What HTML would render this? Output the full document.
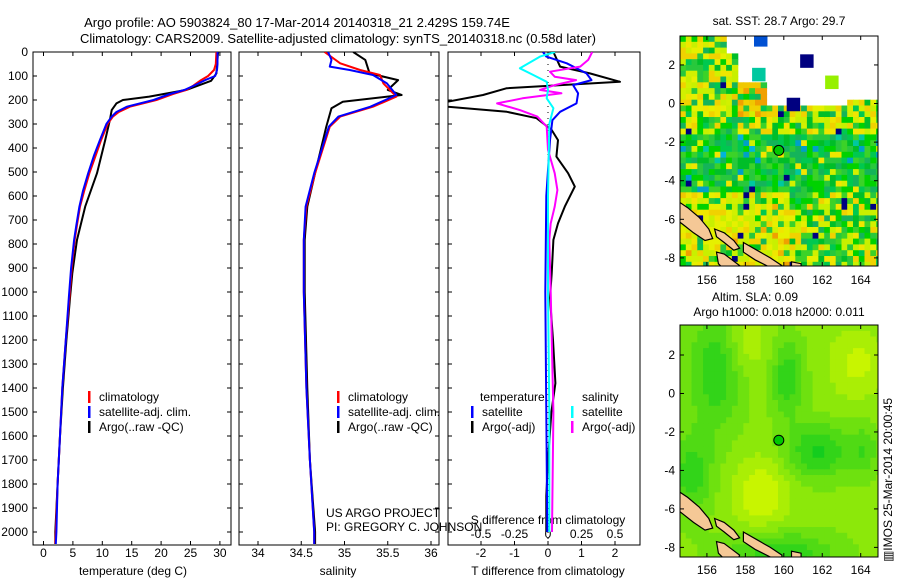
<!DOCTYPE html>
<html><head><meta charset="utf-8"><style>
html,body{margin:0;padding:0;background:#fff;}
svg{display:block;font-family:"Liberation Sans",sans-serif;}
text{fill:#000;}
</style></head><body>
<svg id="fig" width="900" height="580" viewBox="0 0 900 580" xmlns="http://www.w3.org/2000/svg">
<rect width="900" height="580" fill="#fff"/>
<text x="297" y="27" font-size="13" text-anchor="middle">Argo profile: AO 5903824_80 17-Mar-2014 20140318_21 2.429S 159.74E</text>
<text x="338" y="43" font-size="13" text-anchor="middle">Climatology: CARS2009. Satellite-adjusted climatology: synTS_20140318.nc (0.58d later)</text>
<g id="p1"></g>
<g id="p2"></g>
<g id="p3"></g>
<g id="m1"></g>
<g id="m2"></g>
<text x="779" y="25" font-size="12" text-anchor="middle">sat. SST: 28.7 Argo: 29.7</text>
<text x="755" y="301" font-size="12" text-anchor="middle">Altim. SLA: 0.09</text>
<text x="779" y="316" font-size="12" text-anchor="middle">Argo h1000: 0.018 h2000: 0.011</text>
<text transform="translate(892,480) rotate(-90)" font-size="12" text-anchor="middle">▥IMOS 25-Mar-2014 20:00:45</text>
<text x="326" y="517" font-size="12">US ARGO PROJECT</text>
<text x="326" y="531" font-size="12">PI: GREGORY C. JOHNSON</text>
</svg>
<script>
// ---- data ----
const depthTicks = [0,100,200,300,400,500,600,700,800,900,1000,1100,1200,1300,1400,1500,1600,1700,1800,1900,2000];
const tempTicks = [0,5,10,15,20,25,30];
const salTicks = [34,34.5,35,35.5,36];
const dTTicks = [-2,-1,0,1,2];
const dSTicks = [-0.5,-0.25,0,0.25,0.5];
const dSTickLabels = ["-0.5","-0.25","0","0.25","0.5"];

const climTDepth = [0,50,75,100,117,140,158,175,200,228,250,269,300,367,430,505,580,644,720,783,900,1025,1200,1400,1600,1800,2000,2050];
const climT = [29.4,29.3,29.0,28.0,26.8,25.5,24.3,22.0,19.2,14.7,12.8,11.8,10.9,9.8,8.9,7.8,6.9,6.2,5.7,5.3,4.8,4.4,3.8,3.2,2.8,2.4,2.1,2.0];
const satT = [29.6,29.6,29.5,29.2,27.5,25.6,24.0,21.5,18.7,14.2,12.4,11.6,10.7,9.6,8.6,7.6,6.7,6.1,5.6,5.2,4.7,4.3,3.8,3.2,2.8,2.4,2.2,2.1];
const argoTDepth = [0,89,120,158,186,200,214,242,283,367,505,644,783,922,1025,1200,1400,1600,1800,2000,2050];
const argoT = [29.7,29.4,28.5,24.3,18,13.5,12.4,11.6,11.3,10.5,9.1,7.1,5.7,4.9,4.5,3.9,3.3,2.8,2.4,2.0,2.0];

const argoSDepth = [0,33,89,117,158,179,207,234,311,505,644,783,1000,1400,1700,2000,2050];
const argoS = [35.10,35.24,35.29,35.62,35.50,35.66,34.98,34.85,34.79,34.66,34.57,34.54,34.54,34.57,34.60,34.66,34.66];
const climSDepth = [0,47,75,96,131,186,228,269,311,505,644,783,1000,1400,1700,2000,2050];
const climS = [34.77,34.95,35.18,35.41,35.45,35.60,35.33,34.95,34.83,34.66,34.56,34.53,34.53,34.56,34.60,34.65,34.65];
const satSDepth = [0,33,61,75,96,131,179,228,269,311,505,644,783,1000,1400,1700,2000,2050];
const satS = [34.81,34.85,34.83,35.06,35.33,35.49,35.60,35.30,34.93,34.82,34.65,34.55,34.53,34.53,34.56,34.60,34.65,34.65];

const argoDTDepth = [0,61,89,124,151,179,207,228,249,276,325,367,436,505,561,644,714,783,922,1025,1200,1380,1500,1700,1850,2000];
const argoDT = [0.16,0.36,1.25,2.15,-1.23,-1.94,-3.0,-3.0,-1.23,-0.34,0.11,0.3,0.25,0.6,0.8,0.5,0.3,0.16,0.11,0.06,0.15,0.22,0.1,0.0,-0.05,-0.05];
const satDTDepth = [0,19,47,89,117,138,172,214,249,284,367,600,1000,1500,2000];
const satDT = [-0.15,-0.05,0.56,1.15,1.3,0.75,0.9,0.85,0.36,0.13,0.06,-0.05,-0.08,-0.05,-0.02];
const satDSDepth = [0,19,68,96,124,158,193,234,300,600,1000,1500,2000];
const satDS = [0.052,-0.06,-0.21,-0.11,-0.01,0.0,-0.01,0.04,0.01,0.0,0.0,0.01,0.01];
const argoDSDepth = [0,33,61,82,103,117,138,158,172,193,214,242,269,311,408,505,575,644,714,783,1000,1500,2000];
const argoDS = [0.33,0.3,0.24,0.015,0.05,0.21,0.05,-0.06,0.1,-0.19,-0.38,-0.21,-0.08,-0.01,0.0,0.05,0.07,0.05,0.02,0.01,0.02,0.04,0.03];

const lonTicks = [156,158,160,162,164];
const latTicks = [2,0,-2,-4,-6,-8];
const argoLon = 159.74, argoLat = -2.43;

// ---- helpers ----
const NS = "http://www.w3.org/2000/svg";
function mk(tag, parent, attrs){const e=document.createElementNS(NS,tag);for(const k in attrs)e.setAttribute(k,attrs[k]);parent.appendChild(e);return e;}
const Y0 = 52, YB = 545;
const yD = d => Y0 + d*0.24;
const xT = v => 43.5 + v*5.88;
const xS = v => 258 + (v-34)*86.5;
const xDT = v => 548 + v*33.5;
const xDS = v => 548 + v*134;

function panel(g, x0, x1, name){
  const r = mk('rect', g, {x:x0,y:Y0,width:x1-x0,height:YB-Y0,fill:'none',stroke:'#000','stroke-width':1});
   
  depthTicks.forEach(d=>{
    const y=yD(d);
    const t1=mk('line',g,{x1:x0,x2:x0+4,y1:y,y2:y,stroke:'#000'});
     
    const t2=mk('line',g,{x1:x1-4,x2:x1,y1:y,y2:y,stroke:'#000'});
     
  });
}
function xticks(g, ticks, fx, labels, ly){
  ticks.forEach((v,i)=>{
    const x=fx(v);
    const a=mk('line',g,{x1:x,x2:x,y1:Y0,y2:Y0+4,stroke:'#000'});
     
    const b=mk('line',g,{x1:x,x2:x,y1:YB-4,y2:YB,stroke:'#000'});
     
    if(labels){const t=mk('text',g,{x:x,y:ly,'font-size':12,'text-anchor':'middle'});t.textContent=labels[i];
       }
  });
}
function line(g, depths, vals, fx, color, w, name, clip){
  const pts = depths.map((d,i)=>fx(vals[i]).toFixed(1)+','+yD(d).toFixed(1)).join(' ');
  const a={points:pts,fill:'none',stroke:color,'stroke-width':w,'stroke-linejoin':'round'};
  if(clip)a['clip-path']='url(#'+clip+')';
  const p=mk('polyline',g,a);
   
}
function legend(g, x, y, color, label, name){
  const m=mk('rect',g,{x:x,y:y-10,width:2.5,height:12,fill:color});
   
  const t=mk('text',g,{x:x+11,y:y,'font-size':12}); t.textContent=label;
   
}
const svg=document.getElementById('fig');
const defs=mk('defs',svg,{});
[['c1',33,231],['c2',239,439],['c3',448,640]].forEach(([id,a,b])=>{const c=mk('clipPath',defs,{id:id});mk('rect',c,{x:a,y:Y0,width:b-a,height:YB-Y0});});

// panel 1
const p1=document.getElementById('p1');
panel(p1,33,231,'temperature-panel');
depthTicks.forEach(d=>{const t=mk('text',p1,{x:28,y:yD(d)+4,'font-size':12,'text-anchor':'end'});t.textContent=d;
   });
xticks(p1,tempTicks,xT,tempTicks.map(String),557);
const xl1=mk('text',p1,{x:133,y:575,'font-size':12,'text-anchor':'middle'});xl1.textContent='temperature (deg C)';
 
line(p1,argoTDepth,argoT,xT,'#000',2,'argo-temperature-line','c1');
line(p1,climTDepth,climT,xT,'#f00',2,'climatology-temperature-line','c1');
line(p1,climTDepth,satT,xT,'#00f',2,'satellite-temperature-line','c1');
legend(p1,88,401,'#f00','climatology','legend-climatology');
legend(p1,88,416,'#00f','satellite-adj. clim.','legend-satellite');
legend(p1,88,431,'#000','Argo(..raw -QC)','legend-argo');

// panel 2
const p2=document.getElementById('p2');
panel(p2,239,439,'salinity-panel');
xticks(p2,salTicks,xS,salTicks.map(String),557);
const xl2=mk('text',p2,{x:338,y:575,'font-size':12,'text-anchor':'middle'});xl2.textContent='salinity';
 
line(p2,argoSDepth,argoS,xS,'#000',2,'argo-salinity-line','c2');
line(p2,climSDepth,climS,xS,'#f00',2,'climatology-salinity-line','c2');
line(p2,satSDepth,satS,xS,'#00f',2,'satellite-salinity-line','c2');
legend(p2,337,401,'#f00','climatology','legend-climatology');
legend(p2,337,416,'#00f','satellite-adj. clim.','legend-satellite');
legend(p2,337,431,'#000','Argo(..raw -QC)','legend-argo');

// panel 3
const p3=document.getElementById('p3');
mk('rect',p3,{x:448,y:Y0,width:192,height:YB-Y0,fill:'none',stroke:'#000'});
depthTicks.forEach(d=>{const y=yD(d);const t=mk('line',p3,{x1:448,x2:452,y1:y,y2:y,stroke:'#000'});
   });
xticks(p3,dTTicks,xDT,dTTicks.map(String),557);
dSTicks.forEach((v,i)=>{const t=mk('text',p3,{x:xDS(v),y:538,'font-size':12,'text-anchor':'middle'});t.textContent=dSTickLabels[i];
   });
const st=mk('text',p3,{x:548,y:524,'font-size':12,'text-anchor':'middle'});st.textContent='S difference from climatology';
 
const xl3=mk('text',p3,{x:548,y:575,'font-size':12,'text-anchor':'middle'});xl3.textContent='T difference from climatology';
 
const zl=mk('line',p3,{x1:xDT(0),x2:xDT(0),y1:Y0,y2:YB,stroke:'#000','stroke-width':1,'stroke-dasharray':'1,5'});
 
line(p3,argoDTDepth,argoDT,xDT,'#000',2,'argo-t-diff-line','c3');
line(p3,satDTDepth,satDT,xDT,'#00f',2,'satellite-t-diff-line','c3');
line(p3,argoDSDepth,argoDS,xDS,'#f0f',2,'argo-s-diff-line','c3');
line(p3,satDSDepth,satDS,xDS,'#0ff',2,'satellite-s-diff-line','c3');
const th=mk('text',p3,{x:480,y:401,'font-size':12});th.textContent='temperature';
 
const sh=mk('text',p3,{x:582,y:401,'font-size':12});sh.textContent='salinity';
 
legend(p3,471,416,'#00f','satellite','legend-t-satellite');
legend(p3,471,431,'#000','Argo(-adj)','legend-t-argo');
legend(p3,571,416,'#0ff','satellite','legend-s-satellite');
legend(p3,571,431,'#f0f','Argo(-adj)','legend-s-argo');

// ---- maps ----
function hash(i,j){let h=(i*374761393+j*668265263)|0;h=(h^(h>>>13))*1274126177|0;return ((h^(h>>>16))>>>0)/4294967296;}
function sstColor(lon,lat,r){
  if((lat>-0.2&&lon>159.2&&!(lon>163.3&&lat<0.3))||(lat>1.0&&lon>157.6)||(lat>2.7&&lon>157.0))return null;
  const yel=['#e6f000','#f0e600','#d2f000','#f0d200','#c8f000'];
  const grn=['#00d200','#28c83c','#00be28','#3cd228','#00c850','#14b45a'];
  const org=['#f0b400','#f0a000','#f0c800'];
  if(r>0.985)return '#000080';
  if(lat>-0.6){ if(lon>157.3&&lon<159.2&&lat<1.2&&r>0.35)return org[Math.floor(r*3)%3];
    return r<0.3?grn[Math.floor(r*20)%6]:yel[Math.floor(r*25)%5];}
  if(lat>-1.6) return r<0.55?grn[Math.floor(r*30)%6]:yel[Math.floor(r*25)%5];
  if(lat>-4.6){ if(r>0.9)return ['#00b4dc','#00a0c8','#00c8a0'][Math.floor(r*100)%3]; return r<0.85?grn[Math.floor(r*40)%6]:yel[Math.floor(r*25)%5];}
  if(lon<160.2) return r<0.2?grn[Math.floor(r*40)%6]:(r>0.93?org[Math.floor(r*50)%3]:yel[Math.floor(r*30)%5]);
  return r<0.55?grn[Math.floor(r*30)%6]:yel[Math.floor(r*25)%5];
}
const blobs=[[156.5,1.2,1.0,2.2,1],[160.2,0.8,0.6,1.4,1],[161.8,-3.0,1.2,1.0,1.1],[155.2,-4.2,0.8,1.5,0.9],[159.8,-8.3,2.0,0.8,1],[164.2,-3.0,0.5,1.0,0.6],[158.8,-5.2,1.0,1.3,-0.8],[163.8,1.5,1.0,1.2,-0.6],[158.0,2.5,0.8,1.2,-0.5]];
function slaColor(lon,lat){
  let v=0.35;
  blobs.forEach(([cx,cy,sx,sy,a])=>{v+=a*0.55*Math.exp(-((lon-cx)**2/(2*sx*sx)+(lat-cy)**2/(2*sy*sy)));});
  v=Math.max(-0.2,Math.min(1,v));
  const q=Math.round(v*6)/6;
  const r=Math.round(200-q*180), g=Math.round(245-q*40), b=Math.round(0+q*30);
  return 'rgb('+r+','+g+','+b+')';
}
function drawMap(gid,x0,x1,y0,y1,lonL,lonR,latT,latB,cf,name,labY){
  const g=document.getElementById(gid);
  const fx=lon=>x0+(lon-lonL)/(lonR-lonL)*(x1-x0);
  const fy=lat=>y0+(latT-lat)/(latT-latB)*(y1-y0);
  const cp=mk('clipPath',defs,{id:gid+'clip'});mk('rect',cp,{x:x0,y:y0,width:x1-x0,height:y1-y0});
  const cells=mk('g',g,{'clip-path':'url(#'+gid+'clip)'});
   
  const step=0.3;
  let i=0;
  for(let lon=lonL;lon<lonR;lon+=step,i++){let j=0;
    for(let lat=latT;lat>latB;lat-=step,j++){
      const c=cf(lon+step/2,lat-step/2,hash(i,j)); if(!c)continue;
      mk('rect',cells,{x:fx(lon).toFixed(1),y:fy(lat).toFixed(1),width:(fx(lon+step)-fx(lon)+0.6).toFixed(1),height:(fy(lat-step)-fy(lat)+0.6).toFixed(1),fill:c});
    }}
  if(gid==='m1'){[[158.8,3.3,'#0050d2'],[161.2,2.2,'#000080'],[158.7,1.5,'#00c8a0'],[162.5,1.1,'#96f000'],[160.5,-0.05,'#000080']].forEach(([lo,la,c])=>{
    mk('rect',cells,{x:fx(lo-0.35),y:fy(la+0.35),width:fx(lo+0.35)-fx(lo-0.35),height:fy(la-0.35)-fy(la+0.35),fill:c});});}
  const isl=[[[154.4,-5.0],[155.0,-5.4],[155.6,-5.9],[156.1,-6.5],[156.3,-7.0],[155.9,-7.1],[155.3,-6.7],[154.8,-6.3],[154.4,-6.0]],
             [[156.4,-6.5],[156.9,-6.7],[157.4,-7.1],[157.7,-7.5],[157.4,-7.6],[156.9,-7.2],[156.5,-6.9]],
             [[157.9,-7.2],[158.6,-7.6],[159.3,-8.0],[159.9,-8.4],[159.9,-8.7],[159.3,-8.5],[158.5,-8.1],[157.9,-7.7]],
             [[156.5,-7.7],[156.9,-7.8],[157.3,-8.1],[157.7,-8.4],[157.6,-8.7],[157.0,-8.7],[156.6,-8.3]],
             [[160.4,-8.2],[160.9,-8.3],[160.9,-8.6],[160.4,-8.6]]];
  const ig=mk('g',g,{'clip-path':'url(#'+gid+'clip)'});
   
  isl.forEach(pp=>{mk('polygon',ig,{points:pp.map(([a,b])=>fx(a).toFixed(1)+','+fy(b).toFixed(1)).join(' '),fill:'#f5c896',stroke:'#000','stroke-width':1.2});});
  const f=mk('rect',g,{x:x0,y:y0,width:x1-x0,height:y1-y0,fill:'none',stroke:'#000'});
   
  lonTicks.forEach(v=>{const x=fx(v);mk('line',g,{x1:x,x2:x,y1:y0,y2:y0+4,stroke:'#000'});mk('line',g,{x1:x,x2:x,y1:y1-4,y2:y1,stroke:'#000'});
    const t=mk('text',g,{x:x,y:labY,'font-size':12,'text-anchor':'middle'});t.textContent=v;
     });
  latTicks.forEach(v=>{const y=fy(v);mk('line',g,{x1:x0,x2:x0+4,y1:y,y2:y,stroke:'#000'});mk('line',g,{x1:x1-4,x2:x1,y1:y,y2:y,stroke:'#000'});
    const t=mk('text',g,{x:x0-5,y:y+4,'font-size':12,'text-anchor':'end'});t.textContent=v;
     });
  const c=mk('circle',g,{cx:fx(argoLon),cy:fy(argoLat),r:5,fill:'#00c800',stroke:'#000','stroke-width':1});
   
}
drawMap('m1',680,878,36,266,154.6,164.9,3.5,-8.42,sstColor,'sst-map',284);
drawMap('m2',680,878,325,557,154.6,164.9,3.56,-8.5,(lo,la)=>slaColor(lo,la),'sla-map',574);
</script>
</body></html>
